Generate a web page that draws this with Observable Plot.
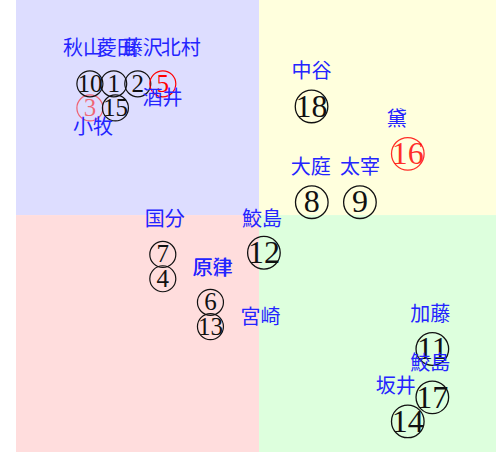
<!DOCTYPE html>
<html>
<head>
<meta charset="utf-8">
<script src="https://cdn.jsdelivr.net/npm/d3@7"></script>
<script src="https://cdn.jsdelivr.net/npm/@observablehq/plot@0.6"></script>
<style>
  body { margin: 0; background: #fff; }
  #chart svg { display: block; }
</style>
</head>
<body>
<div id="chart"></div>
<script>
// ---- data ----
const ids = [1, 2, 3, 4, 5, 6, 7, 8, 9, 10, 11, 12, 13, 14, 15, 16, 17, 18];
const names = ["菱田", "藤沢", "小牧", "原律", "北村", "原津", "国分", "大庭", "太宰",
               "秋山", "加藤", "鮫島", "宮崎", "坂井", "酒井", "黛", "鮫島", "中谷"];
const xVals = [-6.00, -5.01, -6.98, -3.98, -3.98, -2.02, -3.98, 2.15, 4.13,
               -6.98, 7.11, 0.18, -2.02, 6.10, -5.93, 6.10, 7.11, 2.14];
const yVals = [5.42, 5.42, 4.43, -2.60, 5.42, -3.57, -1.60, 0.55, 0.55,
               5.42, -5.49, -1.53, -4.57, -8.47, 4.43, 2.54, -7.48, 4.49];
const status = ["normal", "normal", "pale", "normal", "red", "normal", "normal", "normal", "normal",
                "normal", "normal", "normal", "normal", "normal", "normal", "red2", "normal", "normal"];

// ---- layout / style (not data) ----
const xDomain = [-10, 9.75];
const yDomain = [-9.75, 8.85];
const quadrants = [
  {x1: xDomain[0], x2: 0, y1: 0, y2: yDomain[1], fill: "#ddddff"},
  {x1: 0, x2: xDomain[1], y1: 0, y2: yDomain[1], fill: "#ffffdd"},
  {x1: xDomain[0], x2: 0, y1: yDomain[0], y2: 0, fill: "#ffdddd"},
  {x1: 0, x2: xDomain[1], y1: yDomain[0], y2: 0, fill: "#ddffdd"}
];
const statusColor = {normal: "#111", pale: "red", red: "red", red2: "red"};
const statusOpacity = {normal: 1, pale: 0.55, red: 1, red2: 0.82};
// label offsets in px relative to the point (text starts here)
const labelPlace = {
  1: [-17, -35], 2: [-15, -35], 3: [-17, 20], 4: [30, -10], 5: [-2, -35],
  6: [-18, -34], 7: [-18, -35], 8: [-21, -35], 9: [-20, -35], 10: [-27, -35],
  11: [-22, -34], 12: [-22, -33], 13: [30, -9], 14: [-32, -35], 15: [27, -9],
  16: [-21, -34], 17: [-22, -34], 18: [-20, -35]
};

const idx = d3.range(ids.length);
const big = idx.filter(i => xVals[i] > 0);
const small = idx.filter(i => xVals[i] <= 0);

const X = i => xVals[i], Y = i => yVals[i];
const col = i => statusColor[status[i]];
const op = i => statusOpacity[status[i]];

const marks = [
  Plot.rect(quadrants, {x1: "x1", x2: "x2", y1: "y1", y2: "y2", fill: "fill"}),
  Plot.dot(small, {x: X, y: Y, r: 13, stroke: col, strokeOpacity: op, fill: "none", strokeWidth: 1.2}),
  Plot.dot(big, {x: X, y: Y, r: 16.3, stroke: col, strokeOpacity: op, fill: "none", strokeWidth: 1.3}),
  Plot.text(small, {x: X, y: Y, text: i => String(ids[i]), fill: col, fillOpacity: op,
    fontSize: 25, fontFamily: "Liberation Serif", lineAnchor: "middle", textAnchor: "middle", ariaLabel: "digits-small"}),
  Plot.text(big, {x: X, y: Y, text: i => String(ids[i]), fill: col, fillOpacity: op,
    fontSize: 32, fontFamily: "Liberation Serif", lineAnchor: "middle", textAnchor: "middle", ariaLabel: "digits-big"})
];
for (const i of idx) {
  const [dx, dy] = labelPlace[ids[i]];
  marks.push(Plot.text([i], {x: X, y: Y, text: j => names[j], dx, dy,
    textAnchor: "start", lineAnchor: "middle", fill: "#2424ff",
    fontSize: 20, fontFamily: "Noto Sans CJK JP", ariaLabel: "label"}));
}

const chart = Plot.plot({
  width: 496,
  height: 452,
  marginLeft: 16, marginRight: 0, marginTop: 0, marginBottom: 0,
  x: {domain: xDomain, axis: null},
  y: {domain: yDomain, axis: null},
  color: {type: "identity"},
  style: {background: "#fff"},
  marks
});

// condense circled digits horizontally
chart.querySelectorAll('g[aria-label^="digits"] text').forEach(t => {
  const k = t.textContent.length > 1 ? 0.72 : 0.92;
  const tr = t.getAttribute("transform");
  if (tr) {
    t.setAttribute("transform", tr + ` scale(${k},1)`);
  } else {
    const x = +t.getAttribute("x") || 0, y = +t.getAttribute("y") || 0;
    t.removeAttribute("x"); t.removeAttribute("y");
    t.setAttribute("transform", `translate(${x},${y}) scale(${k},1)`);
  }
});

document.getElementById("chart").appendChild(chart);
</script>
</body>
</html>
